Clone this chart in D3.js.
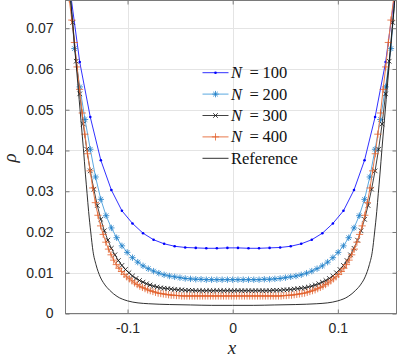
<!DOCTYPE html>
<html>
<head>
<meta charset="utf-8">
<script src="https://cdn.jsdelivr.net/npm/d3@7"></script>
<style>
  body { margin: 0; background: #fff; }
  svg { display: block; }
  .tick text { font-family: "Liberation Sans", Arial, sans-serif; font-size: 14px; fill: #262626; }
</style>
</head>
<body>
<div class="chart"></div>
<script>
const W = 399, H = 359;
const margin = ({top: 0.5, right: 2.5, bottom: 45.5, left: 65.5});

// tick values / labels
const xTicks = [-0.1, 0, 0.1];
const xTickLabels = ["-0.1", "0", "0.1"];
const yTicks = [0, 0.01, 0.02, 0.03, 0.04, 0.05, 0.06, 0.07];
const yTickLabels = ["0", "0.01", "0.02", "0.03", "0.04", "0.05", "0.06", "0.07"];

// sample grids (uniform in x, end points at +-0.1555)
const gridN100 = {start: -0.1555, stop: 0.1555, count: 32};
const gridN200 = {start: -0.1555, stop: 0.1555, count: 63};
const gridN300 = {start: -0.1555, stop: 0.1555, count: 94};
const gridN400 = {start: -0.1555, stop: 0.1555, count: 126};

// values, left to right
const rhoN100 = [0.0810, 0.0617, 0.0482, 0.0376, 0.0303, 0.0252, 0.0221, 0.0197, 0.0181, 0.0171, 0.0165, 0.0162, 0.0161, 0.0160, 0.0160, 0.0161,
                 0.0161, 0.0160, 0.0160, 0.0161, 0.0162, 0.0165, 0.0171, 0.0181, 0.0197, 0.0221, 0.0252, 0.0303, 0.0376, 0.0482, 0.0617, 0.0810];

const rhoN200 = [0.0820, 0.0650, 0.0556, 0.0476, 0.0403, 0.0335, 0.0280, 0.0240, 0.0210, 0.0186, 0.0166, 0.0150, 0.0137, 0.0126, 0.0117, 0.0110,
                 0.0104, 0.0099, 0.0095, 0.0092, 0.0090, 0.0088, 0.0086, 0.0085, 0.0084, 0.0084, 0.0083, 0.0083, 0.0083, 0.0083, 0.0083,
                 0.0083,
                 0.0083, 0.0083, 0.0083, 0.0083, 0.0083, 0.0084, 0.0084, 0.0085, 0.0086, 0.0088, 0.0090, 0.0092, 0.0095, 0.0099, 0.0104,
                 0.0110, 0.0117, 0.0126, 0.0137, 0.0150, 0.0166, 0.0186, 0.0210, 0.0240, 0.0280, 0.0335, 0.0403, 0.0476, 0.0556, 0.0650, 0.0820];

const rhoN300 = [0.0810, 0.0714, 0.0619, 0.0539, 0.0465, 0.0403, 0.0350, 0.0305, 0.0265, 0.0231, 0.0203, 0.0180, 0.0160, 0.0144, 0.0130, 0.0118,
                 0.0108, 0.0100, 0.0092, 0.0086, 0.0081, 0.0077, 0.0073, 0.0070, 0.0067, 0.0065, 0.0063, 0.0062, 0.0061, 0.0060, 0.0059, 0.0058,
                 0.0058, 0.0057, 0.0057, 0.0057, 0.0056, 0.0056, 0.0056, 0.0056, 0.0056, 0.0056, 0.0056, 0.0056, 0.0056, 0.0056, 0.0056,
                 0.0056, 0.0056, 0.0056, 0.0056, 0.0056, 0.0056, 0.0056, 0.0056, 0.0056, 0.0056, 0.0056, 0.0057, 0.0057, 0.0057, 0.0058,
                 0.0058, 0.0059, 0.0060, 0.0061, 0.0062, 0.0063, 0.0065, 0.0067, 0.0070, 0.0073, 0.0077, 0.0081, 0.0086, 0.0092, 0.0100,
                 0.0108, 0.0118, 0.0130, 0.0144, 0.0160, 0.0180, 0.0203, 0.0231, 0.0265, 0.0305, 0.0350, 0.0403, 0.0465, 0.0539, 0.0619,
                 0.0714, 0.0810];

const rhoN400 = [0.0772, 0.0720, 0.0665, 0.0605, 0.0550, 0.0492, 0.0440, 0.0392, 0.0350, 0.0308, 0.0272, 0.0241, 0.0215, 0.0194, 0.0175, 0.0158,
                 0.0144, 0.0131, 0.0120, 0.0111, 0.0103, 0.0096, 0.0090, 0.0085, 0.0080, 0.0075, 0.0071, 0.0067, 0.0064, 0.0061, 0.0058, 0.0056,
                 0.0054, 0.0052, 0.0050, 0.0049, 0.0048, 0.0047, 0.0046, 0.0045, 0.0045, 0.0044, 0.0044, 0.0043, 0.0043, 0.0043, 0.0043,
                 0.0043, 0.0043, 0.0043, 0.0043, 0.0043, 0.0043, 0.0043, 0.0043, 0.0043, 0.0043, 0.0043, 0.0043, 0.0043, 0.0043, 0.0043, 0.0043,
                 0.0043, 0.0043, 0.0043, 0.0043, 0.0043, 0.0043, 0.0043, 0.0043, 0.0043, 0.0043, 0.0043, 0.0043, 0.0043, 0.0043, 0.0043, 0.0043,
                 0.0043, 0.0043, 0.0043, 0.0044, 0.0044, 0.0045, 0.0045, 0.0046, 0.0047, 0.0048, 0.0049, 0.0050, 0.0052, 0.0054, 0.0056, 0.0058,
                 0.0061, 0.0064, 0.0067, 0.0071, 0.0075, 0.0080, 0.0085, 0.0090, 0.0096, 0.0103, 0.0111, 0.0120, 0.0131, 0.0144, 0.0158, 0.0175,
                 0.0194, 0.0215, 0.0241, 0.0272, 0.0308, 0.0350, 0.0392, 0.0440, 0.0492, 0.0550, 0.0605, 0.0665, 0.0720, 0.0772];

// reference curve (no markers)
const refX = [-0.1555, -0.154, -0.152, -0.150, -0.148, -0.146, -0.144, -0.142, -0.140, -0.1385, -0.137, -0.135, -0.1328, -0.130, -0.126, -0.122,
              -0.117, -0.110, -0.100, -0.090, -0.080, -0.060, -0.040, -0.020, 0, 0.020, 0.040, 0.060, 0.080, 0.090, 0.100, 0.110, 0.117,
              0.122, 0.126, 0.130, 0.1328, 0.135, 0.137, 0.1385, 0.140, 0.142, 0.144, 0.146, 0.148, 0.150, 0.152, 0.154, 0.1555];
const refY = [0.0830, 0.0765, 0.0705, 0.0645, 0.0585, 0.0525, 0.0465, 0.0405, 0.0340, 0.0295, 0.0250, 0.0200, 0.0152, 0.0120, 0.0090, 0.0072,
              0.0057, 0.0042, 0.0031, 0.0026, 0.0024, 0.0022, 0.0021, 0.0020, 0.0020, 0.0020, 0.0021, 0.0022, 0.0024, 0.0026, 0.0031, 0.0042, 0.0057,
              0.0072, 0.0090, 0.0120, 0.0152, 0.0200, 0.0250, 0.0295, 0.0340, 0.0405, 0.0465, 0.0525, 0.0585, 0.0645, 0.0705, 0.0765, 0.0830];

function gridX(g) {
    return d3.range(g.count).map(i => g.start + i * (g.stop - g.start) / (g.count - 1));
}

const series = [
    {label: "100", x: gridX(gridN100), y: rhoN100, line: "#1a1aff", mark: "#0000ff", marker: "dot", lw: 0.9},
    {label: "200", x: gridX(gridN200), y: rhoN200, line: "#5aa8e0", mark: "#1f7fc8", marker: "star", lw: 1},
    {label: "300", x: gridX(gridN300), y: rhoN300, line: "#111", mark: "#111", marker: "cross", lw: 0.8},
    {label: "400", x: gridX(gridN400), y: rhoN400, line: "#e8794a", mark: "#e2612c", marker: "plus", lw: 1}
];

const svg = d3.select(".chart").append("svg")
    .attr("width", W)
    .attr("height", H);

const x = d3.scaleLinear().domain([-0.159, 0.1558]).range([margin.left, W - margin.right]);
const y = d3.scaleLinear().domain([0, 0.0768]).range([H - margin.bottom, margin.top]);

svg.append("defs").append("clipPath").attr("id", "clip")
  .append("rect")
    .attr("x", margin.left).attr("y", margin.top)
    .attr("width", W - margin.right - margin.left)
    .attr("height", H - margin.bottom - margin.top);

// grid
const grid = svg.append("g").attr("stroke", "#e4e4e4").attr("stroke-width", 1);
grid.selectAll(".gx").data(xTicks).enter().append("line")
    .attr("x1", d => Math.round(x(d)) + 0.5).attr("x2", d => Math.round(x(d)) + 0.5)
    .attr("y1", margin.top).attr("y2", H - margin.bottom);
grid.selectAll(".gy").data(yTicks).enter().append("line")
    .attr("y1", d => Math.round(y(d)) + 0.5).attr("y2", d => Math.round(y(d)) + 0.5)
    .attr("x1", margin.left).attr("x2", W - margin.right);

// marker shapes
function markerPath(type) {
    if (type === "star") {
        const s = 3.2, d = 2.3;
        return `M0,${-s}V${s}M${-s},0H${s}M${-d},${-d}L${d},${d}M${-d},${d}L${d},${-d}`;
    }
    if (type === "cross") {
        const s = 2.3;
        return `M${-s},${-s}L${s},${s}M${-s},${s}L${s},${-s}`;
    }
    if (type === "plus") {
        const s = 3.6;
        return `M0,${-s}V${s}M${-s},0H${s}`;
    }
    return null;
}

function drawMarkers(g, pts, s) {
    if (s.marker === "dot") {
        g.selectAll("circle").data(pts).enter().append("circle")
            .attr("cx", d => d[0]).attr("cy", d => d[1])
            .attr("r", 1.3).attr("fill", s.mark);
    } else {
        g.selectAll("path").data(pts).enter().append("path")
            .attr("transform", d => `translate(${d[0]},${d[1]})`)
            .attr("d", markerPath(s.marker))
            .attr("fill", "none").attr("stroke", s.mark).attr("stroke-width", 0.8);
    }
}

const line = d3.line().x(d => x(d[0])).y(d => y(d[1]));
const plot = svg.append("g").attr("clip-path", "url(#clip)");

series.forEach(s => {
    const data = s.x.map((v, i) => [v, s.y[i]]);
    const g = plot.append("g");
    g.append("path").datum(data)
        .attr("d", line)
        .attr("fill", "none").attr("stroke", s.line).attr("stroke-width", s.lw);
    drawMarkers(g.append("g"), data.map(d => [x(d[0]), y(d[1])]), s);
});

plot.append("path").datum(refX.map((v, i) => [v, refY[i]]))
    .attr("d", line.curve(d3.curveMonotoneX))
    .attr("fill", "none").attr("stroke", "#1a1a1a").attr("stroke-width", 0.9);

// axes (ticks inside, box on)
const axisColor = "#7a7a7a";
const xAxis = svg.append("g")
    .attr("transform", `translate(0,${H - margin.bottom})`)
    .call(d3.axisBottom(x).tickValues(xTicks).tickFormat((d, i) => xTickLabels[i]).tickSize(-4).tickPadding(10));
const yAxis = svg.append("g")
    .attr("transform", `translate(${margin.left},0)`)
    .call(d3.axisLeft(y).tickValues(yTicks).tickFormat((d, i) => yTickLabels[i]).tickSize(-4).tickPadding(12));
const xTop = svg.append("g")
    .attr("transform", `translate(0,${margin.top})`)
    .call(d3.axisTop(x).tickValues(xTicks).tickFormat("").tickSize(-4));
const yRight = svg.append("g")
    .attr("transform", `translate(${W - margin.right},0)`)
    .call(d3.axisRight(y).tickValues(yTicks).tickFormat("").tickSize(-4));
[xAxis, yAxis, xTop, yRight].forEach(a => {
    a.select(".domain").remove();
    a.selectAll(".tick line").attr("stroke", axisColor);
});
svg.append("rect")
    .attr("x", margin.left).attr("y", margin.top)
    .attr("width", W - margin.right - margin.left)
    .attr("height", H - margin.bottom - margin.top)
    .attr("fill", "none").attr("stroke", axisColor).attr("stroke-width", 1);

// axis labels
svg.append("text")
    .attr("x", 232).attr("y", 354)
    .attr("text-anchor", "middle")
    .attr("font-family", "Liberation Serif, serif").attr("font-style", "italic")
    .attr("font-size", 19).attr("fill", "#262626")
    .text("x");
svg.append("text")
    .attr("transform", "translate(16,158) rotate(-90)")
    .attr("text-anchor", "middle")
    .attr("font-family", "Liberation Serif, serif").attr("font-style", "italic")
    .attr("font-size", 19).attr("fill", "#262626")
    .text("ρ");

// legend
const legend = svg.append("g");
const rows = series.concat([{label: null, line: "#1a1a1a", lw: 0.9, marker: "none"}]);
rows.forEach((s, i) => {
    const ry = 72.7 + i * 21.4;
    const g = legend.append("g");
    g.append("line")
        .attr("x1", 202.5).attr("x2", 228.5).attr("y1", ry).attr("y2", ry)
        .attr("stroke", s.line).attr("stroke-width", s.lw);
    if (s.marker !== "none") drawMarkers(g.append("g"), [[215.5, ry]], s);
    const t = g.append("text")
        .attr("y", ry + 5.5)
        .attr("font-family", "Liberation Serif, serif")
        .attr("font-size", 16.5).attr("fill", "#111");
    if (s.label) {
        t.append("tspan").attr("x", 231).attr("font-style", "italic").text("N");
        t.append("tspan").attr("x", 249.5).text("=");
        t.append("tspan").attr("x", 262.5).text(s.label);
    } else {
        t.append("tspan").attr("x", 231).text("Reference");
    }
});
</script>
</body>
</html>
